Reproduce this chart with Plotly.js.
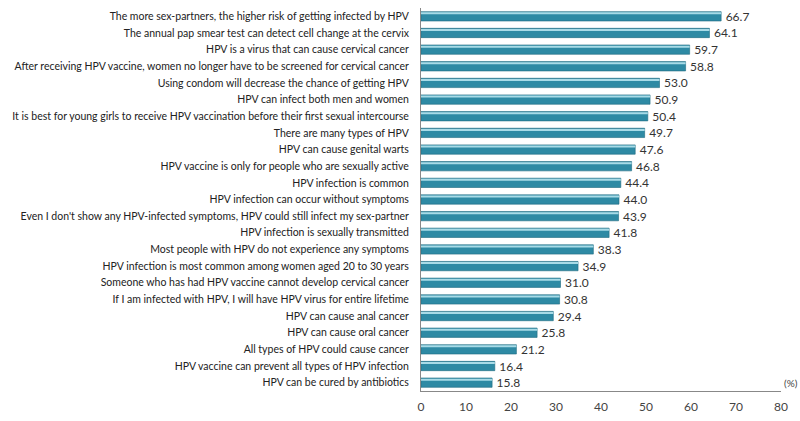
<!DOCTYPE html>
<html>
<head>
<meta charset="utf-8">
<script src="https://cdn.plot.ly/plotly-3.0.1.min.js"></script>
<style>html,body{margin:0;padding:0;background:#fff;}#chart{width:800px;height:421px;}</style>
</head>
<body>
<div id="chart"></div>
<script>
const categories = [
  "The more sex-partners, the higher risk of getting infected by HPV",
  "The annual pap smear test can detect cell change at the cervix",
  "HPV is a virus that can cause cervical cancer",
  "After receiving HPV vaccine, women no longer have to be screened for cervical cancer",
  "Using condom will decrease the chance of getting HPV",
  "HPV can infect both men and women",
  "It is best for young girls to receive HPV vaccination before their first sexual intercourse",
  "There are many types of HPV",
  "HPV can cause genital warts",
  "HPV vaccine is only for people who are sexually active",
  "HPV infection is common",
  "HPV infection can occur without symptoms",
  "Even I don't show any HPV-infected symptoms, HPV could still infect my sex-partner",
  "HPV infection is sexually transmitted",
  "Most people with HPV do not experience any symptoms",
  "HPV infection is most common among women aged 20 to 30 years",
  "Someone who has had HPV vaccine cannot develop cervical cancer",
  "If I am infected with HPV, I will have HPV virus for entire lifetime",
  "HPV can cause anal cancer",
  "HPV can cause oral cancer",
  "All types of HPV could cause cancer",
  "HPV vaccine can prevent all types of HPV infection",
  "HPV can be cured by antibiotics"
];
const values = [66.7, 64.1, 59.7, 58.8, 53.0, 50.9, 50.4, 49.7, 47.6, 46.8, 44.4, 44.0, 43.9, 41.8, 38.3, 34.9, 31.0, 30.8, 29.4, 25.8, 21.2, 16.4, 15.8];
const xTicks = [0, 10, 20, 30, 40, 50, 60, 70, 80];
const unitLabel = "(%)";

const font = "Lato, 'Open Sans', sans-serif";

const base = {
  type: 'bar', orientation: 'h',
  x: values, y: categories,
  width: 0.56,
  marker: {color: '#2e8aa4', line: {color: '#1f6a80', width: 0.6}},
  text: values.map(v => '\u2009' + v.toFixed(1)),
  textposition: 'outside',
  constraintext: 'none',
  textfont: {family: font, size: 12, color: '#333'},
  cliponaxis: false,
  hoverinfo: 'x+y'
};
const highlight = {
  type: 'bar', orientation: 'h',
  x: values, y: categories,
  width: 0.12, offset: -0.24,
  marker: {color: '#a8dbe7', line: {width: 0}},
  hoverinfo: 'skip'
};

const layout = {
  width: 800, height: 421,
  margin: {l: 421, r: 19, t: 8, b: 30},
  paper_bgcolor: '#fff', plot_bgcolor: '#fff',
  barmode: 'overlay',
  showlegend: false,
  font: {family: font, color: '#333'},
  xaxis: {
    range: [0, 80], tickvals: xTicks, ticktext: xTicks.map(String),
    showgrid: false, zeroline: false, showline: true,
    linecolor: '#888', linewidth: 1, ticks: '',
    ticklabelstandoff: 5,
    tickfont: {family: font, size: 12, color: '#444'},
    fixedrange: true
  },
  yaxis: {
    type: 'category', autorange: 'reversed',
    showgrid: false, zeroline: false, showline: true,
    linecolor: '#888', linewidth: 1, ticks: '',
    ticklabelstandoff: 9,
    tickfont: {family: font, size: 10.5, color: '#222'},
    automargin: false, fixedrange: true
  },
  annotations: [{
    xref: 'paper', yref: 'paper', x: 1, y: 0,
    xanchor: 'left', yanchor: 'bottom', xshift: 1,
    text: unitLabel, showarrow: false,
    font: {family: font, size: 10, color: '#444'}
  }]
};

Plotly.newPlot('chart', [base, highlight], layout, {displayModeBar: false, staticPlot: true});
</script>
</body>
</html>
